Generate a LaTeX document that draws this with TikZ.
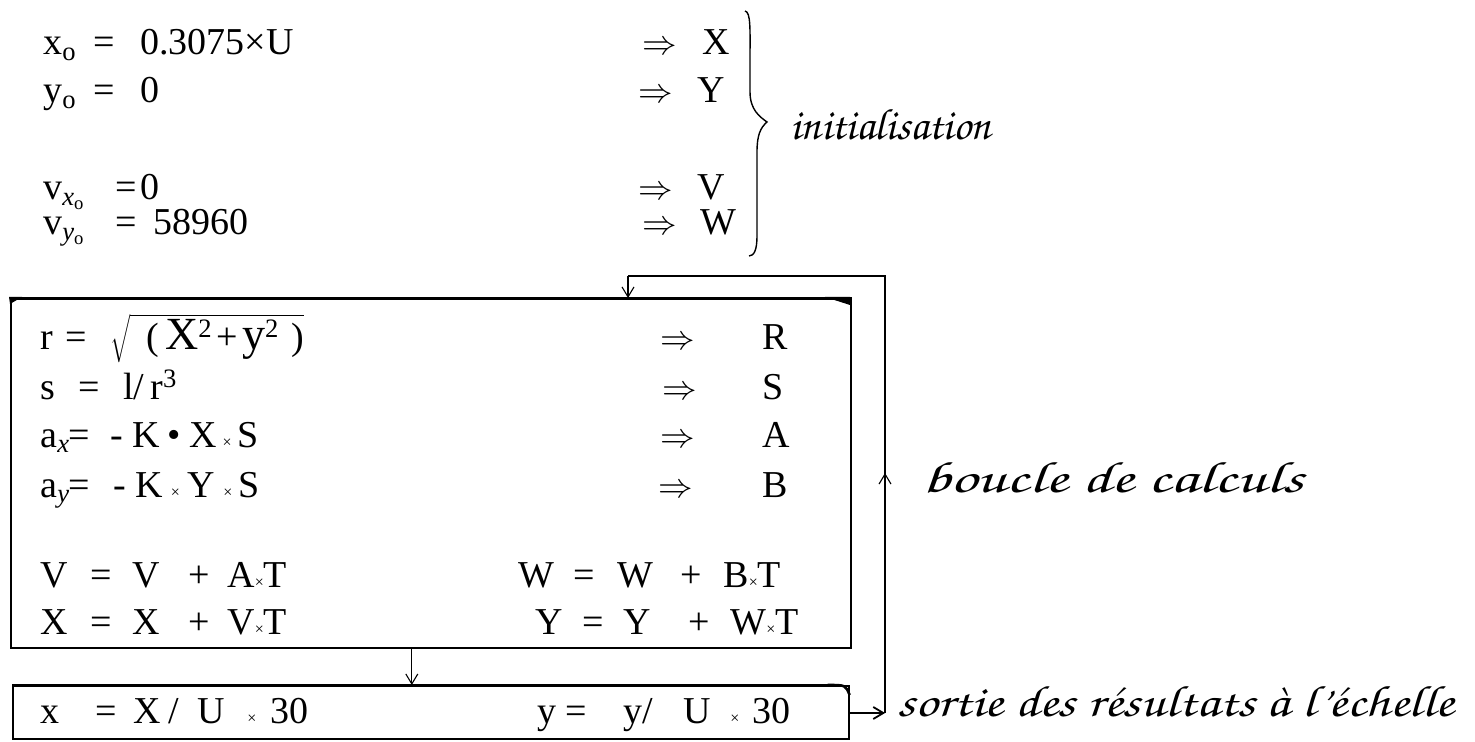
\documentclass[tikz,border=0pt]{standalone}
\usepackage[T1]{fontenc}
\usepackage{fontspec}
\setmainfont{Liberation Serif}
\usetikzlibrary{arrows.meta}
\newcommand\handfont{\fontencoding{T1}\fontfamily{pzc}\fontseries{mb}\fontshape{it}\fontsize{22}{26}\selectfont}
\newcommand\sg[2]{\makebox[#1pt][l]{#2}}
\newcommand\tm{{\footnotesize ×}}
\tikzset{
  txt/.style={font=\fontsize{19}{22}\selectfont, inner sep=0pt, anchor=base west},
  hand/.style={font=\handfont, inner sep=0pt, anchor=base west},
  frame/.style={draw, line width=0.8pt, inner sep=0pt, anchor=north west},
  link/.style={line width=0.55pt},
  arr/.style={line width=0.55pt, -{Straight Barb[length=5pt,width=6pt]}},
}
\begin{document}
\begin{tikzpicture}[x=0.5pt,y=-0.5pt]
\useasboundingbox (0,0) rectangle (1475,742);
% initialisation
\node[txt] (l1) at (43,55) {\sg{25}{x\textsubscript{o}}\sg{23.5}{=}0.3075×U};
\node[txt] (l2) at (43,103) {\sg{25}{y\textsubscript{o}}\sg{23.5}{=}0};
\node[txt] (l3) at (43,200) {\sg{36}{v\textsubscript{\textit{x}\textsubscript{o}}}\sg{12.5}{=}0};
\node[txt] (l4) at (43,235) {\sg{36}{v\textsubscript{\textit{y}\textsubscript{o}}}\sg{19}{=}58960};
\node[txt] (r1) at (642,55) {\sg{30}{$\Rightarrow$}X};
\node[txt] (r2) at (638,103) {\sg{29.5}{$\Rightarrow$}Y};
\node[txt] (r3) at (638,200) {\sg{29.5}{$\Rightarrow$}V};
\node[txt] (r4) at (642,235) {\sg{29}{$\Rightarrow$}W};
\draw[line width=0.7pt] (745,11) .. controls (751,12) and (750,30) .. (750,60) -- (750,92)
  .. controls (750,110) and (760,117) .. (767,122)
  .. controls (760,128) and (757,136) .. (757,152) -- (757,236)
  .. controls (757,250) and (754,256) .. (749,256);
\node[hand] (init) at (790,140) {initialisation};
% loop box
\node[frame, minimum width=420pt, minimum height=174.5pt] (loop) at (10,298) {};
\draw[line width=1.3pt] (loop.north west) -- (loop.north east);
\fill (825,297) -- (850,297) -- (850,305) -- cycle;
\fill (9,297) -- (22,297) -- (10,304) -- cycle;
\node[txt] (c1) at (40,350) {\sg{12.5}{r}\sg{22.5}{=}$\sqrt{\mbox{\hspace{8pt}(\hspace{3pt}{\fontsize{23}{23}\selectfont X}\textsuperscript{2}\hspace{2pt}+\hspace{2pt}{\fontsize{23}{23}\selectfont y}\textsuperscript{2}\hspace{6pt})}}$};
\node[txt] (c2) at (40,400) {\sg{19}{s}\sg{22.5}{=}l/\hspace{3pt}r\textsuperscript{3}};
\node[txt] (c3) at (40,447) {\sg{14}{a\textsubscript{\textit{x}}}\sg{21}{=}\sg{11}{-}K\hspace{4pt}•\hspace{4pt}X\hspace{3pt}\tm\hspace{3pt}S};
\node[txt] (c4) at (40,497) {\sg{14}{a\textsubscript{\textit{y}}}\sg{22.5}{=}\sg{11}{-}K\hspace{4pt}\tm\hspace{4pt}Y\hspace{4pt}\tm\hspace{3pt}S};
\node[txt] (d1) at (660,350) {\sg{51}{$\Rightarrow$}R};
\node[txt] (d2) at (662,400) {\sg{50}{$\Rightarrow$}S};
\node[txt] (d3) at (660,447) {\sg{51}{$\Rightarrow$}A};
\node[txt] (d4) at (658,497) {\sg{52}{$\Rightarrow$}B};
\node[txt] (c5) at (40,587) {\sg{25}{V}\sg{21}{=}\sg{28}{V}\sg{19.5}{+}A\tm T};
\node[txt] (c6) at (40,634) {\sg{25}{X}\sg{21}{=}\sg{28}{X}\sg{19.5}{+}V\tm T};
\node[txt] (c7) at (518,587) {\sg{27.5}{W}\sg{22}{=}\sg{31.5}{W}\sg{21.5}{+}B\tm T};
\node[txt] (c8) at (535,634) {\sg{23.5}{Y}\sg{20.5}{=}\sg{32.5}{Y}\sg{21}{+}W\tm T};
% output box
\node[frame, minimum width=418pt, minimum height=26.5pt] (out) at (12,685) {};
\draw[line width=1.3pt] (out.north west) -- ([xshift=-10pt]out.north east);
\draw[line width=1.3pt] ([xshift=-11pt]out.north east) .. controls ([xshift=-2pt]out.north east) .. ([yshift=-5pt]out.north east);
\node[txt] (o1) at (40,723) {\sg{27.5}{x}\sg{19}{=}\sg{17.5}{X}\sg{14.5}{/}\sg{25}{U}\sg{11.5}{\tm}30};
\node[txt] (o2) at (537,723) {\sg{14}{y}\sg{29}{=}\sg{30}{y/}\sg{23.5}{U}\sg{11}{\tm}30};
% connectors
\draw[arr] ([xshift=-9.5pt]loop.south) -- ([xshift=-9.5pt]loop.south |- out.north);
\coordinate (j) at (885,713);
\coordinate (tr) at (885,276);
\coordinate (tl) at (628,276);
\coordinate (up) at (885,473);
\draw[link] (j) -- (tr) -- (tl);
\draw[arr, line width=0.9pt] (out.east |- j) -- (j);
\draw[arr] (j) -- (up);
\draw[arr] (tl) -- (tl |- loop.north);
\node[hand] (calc) at (922,492) {\scalebox{1.5}[1]{boucle de calculs}};
\node[hand] (sortie) at (897,716) {\scalebox{1.25}[1]{sortie des résultats à l'échelle}};
\end{tikzpicture}
\end{document}
